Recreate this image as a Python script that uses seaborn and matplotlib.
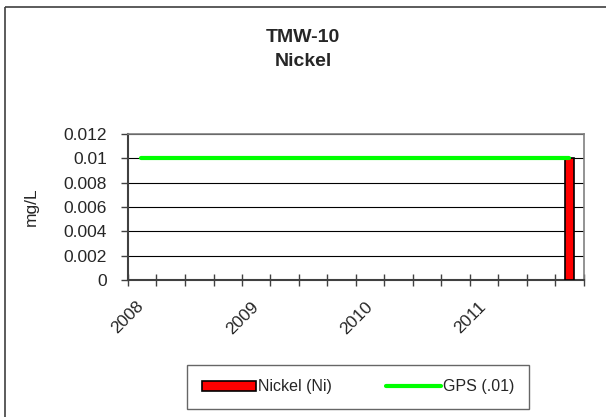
import numpy as np
import pandas as pd
import matplotlib
matplotlib.use("Agg")
import matplotlib.pyplot as plt
import matplotlib.dates as mdates
import matplotlib.patches as mpatches
from matplotlib.lines import Line2D
import seaborn as sns

# data
nickel_dates = ["2011-11-15"]
nickel_values = [0.01]
gps_dates = ["2008-02-13", "2011-11-15"]
gps_values = [0.01, 0.01]
y_ticks = [0, 0.002, 0.004, 0.006, 0.008, 0.01, 0.012]
y_tick_labels = ["0", "0.002", "0.004", "0.006", "0.008", "0.01", "0.012"]
year_labels = ["2008", "2009", "2010", "2011"]

sns.set_style("white")
plt.rcParams["font.family"] = ["Liberation Sans", "DejaVu Sans"]

nickel_df = pd.DataFrame({"date": pd.to_datetime(nickel_dates), "value": nickel_values})
gps_df = pd.DataFrame({"date": pd.to_datetime(gps_dates), "value": gps_values})

W, H = 606, 417
fig = plt.figure(figsize=(W / 100, H / 100), dpi=100, facecolor="white",
                 edgecolor="white", linewidth=0)
ax = fig.add_axes([128 / W, 1 - 280 / H, (584 - 128) / W, (280 - 134) / H])

# horizontal grid
ax.set_yticks(y_ticks)
ax.set_yticklabels(y_tick_labels, fontsize=12.5)
ax.yaxis.grid(True, color="black", lw=0.8)
ax.set_axisbelow(True)

ax.bar(nickel_df["date"], nickel_df["value"], width=30, color="#ff0000",
       edgecolor="black", lw=1.2, zorder=3)
sns.lineplot(data=gps_df, x="date", y="value", color="#00ff00", lw=3,
             ax=ax, zorder=4, legend=False)

ax.set_xlim(pd.Timestamp("2008-01-01"), pd.Timestamp("2012-01-01"))
ax.set_ylim(0, 0.012)
ax.xaxis.set_minor_locator(mdates.MonthLocator(bymonth=[1, 4, 7, 10]))
ax.set_xticks(pd.to_datetime([y + "-01-01" for y in year_labels]))
ax.set_xticklabels(year_labels, rotation=45, ha="center", va="top",
                   fontsize=12.5)
ax.tick_params(axis="x", which="both", direction="inout", length=9, width=1,
               color="#404040", pad=9, bottom=True)
ax.tick_params(axis="y", direction="out", length=5, width=1, color="#404040",
               left=True, pad=10)
ax.set_xlabel("")
ax.set_ylabel("mg/L", fontsize=12.5)
ax.yaxis.set_label_coords((39 - 128) / (584 - 128), 0.5)

for side in ["left", "bottom"]:
    ax.spines[side].set_color("#404040")
    ax.spines[side].set_linewidth(1.5)
for side in ["top", "right"]:
    ax.spines[side].set_color("#808080")
    ax.spines[side].set_linewidth(1.2)

fig.text(303 / W, 1 - 37 / H, "TMW-10", ha="center", va="center",
         fontsize=14, fontweight="bold")
fig.text(303 / W, 1 - 61 / H, "Nickel", ha="center", va="center",
         fontsize=14, fontweight="bold")

handles = [mpatches.Patch(facecolor="#ff0000", edgecolor="black", lw=1.2),
           Line2D([0], [0], color="#00ff00", lw=3)]
leg = fig.legend(handles, ["Nickel (Ni)", "GPS (.01)"], ncol=2,
                 loc="center", bbox_to_anchor=(358 / W, 1 - 387 / H),
                 fontsize=11.5, frameon=True, fancybox=False, handlelength=3.4,
                 handleheight=0.55, handletextpad=0.15, columnspacing=3.4,
                 borderpad=0.9, borderaxespad=0)
leg.get_frame().set_edgecolor("#404040")
leg.get_frame().set_linewidth(1)

# chart border, only the top and left edges are in view
fig.add_artist(Line2D([5 / W, 1.05], [1 - 7 / H, 1 - 7 / H], transform=fig.transFigure,
                      color="#404040", lw=1.2, solid_capstyle="butt"))
fig.add_artist(Line2D([5 / W, 5 / W], [-0.05, 1 - 7 / H], transform=fig.transFigure,
                      color="#404040", lw=1.2, solid_capstyle="butt"))

fig.savefig("out.png", dpi=100, facecolor="white", edgecolor="white")
